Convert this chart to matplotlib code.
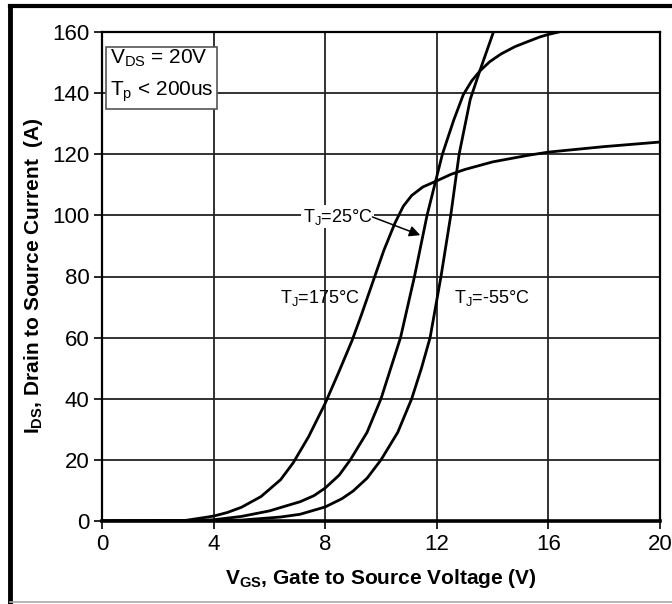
import matplotlib
matplotlib.use("Agg")
import matplotlib.pyplot as plt
from matplotlib.lines import Line2D

plt.rcParams['font.family'] = ['Liberation Sans Narrow', 'Liberation Sans', 'DejaVu Sans']

# transfer characteristics
vgs_175 = [0, 3, 4, 4.5, 5, 5.7, 6.4, 6.85, 7.4, 8.0, 8.5, 8.96, 9.3, 9.68, 10.1, 10.5, 10.8, 11.1, 11.5, 12.0, 12.5, 13.0, 14.0, 15.3, 16.0, 18.0, 20.0]
ids_175 = [0, 0.2, 1.6, 2.8, 4.5, 8, 13.5, 19, 27.5, 38.5, 49, 59, 67.5, 77.5, 88.5, 97.5, 103, 106.5, 109.3, 111.3, 113.4, 115, 117.5, 119.7, 120.7, 122.5, 124]

vgs_25 = [0, 3, 4, 5, 6, 6.4, 7.1, 7.6, 8.0, 8.5, 8.9, 9.5, 10.0, 10.35, 10.7, 11.2, 11.65, 12.2, 12.6, 12.95, 13.25, 13.55, 13.9, 14.3, 14.8, 15.3, 15.7, 16.0, 16.6]
ids_25 = [0, 0.1, 0.4, 1.5, 3.3, 4.4, 6.3, 8.3, 10.8, 15, 20, 29, 40, 50, 60, 80, 100, 120, 131, 139.5, 144, 147.3, 150.3, 152.8, 155.2, 157, 158.4, 159.2, 160.5]

vgs_m55 = [0, 3, 4, 5, 6.4, 7.1, 8.0, 8.6, 9.0, 9.5, 10.0, 10.6, 11.1, 11.45, 11.76, 12.15, 12.5, 12.8, 13.2, 13.55, 14.05]
ids_m55 = [0, 0, 0.1, 0.3, 1.3, 2.2, 4.6, 7.3, 9.8, 14, 20, 29, 40, 50, 60, 80, 100, 120, 138, 147.5, 160.5]

x_ticks = [0, 4, 8, 12, 16, 20]
y_ticks = [0, 20, 40, 60, 80, 100, 120, 140, 160]

fig = plt.figure(figsize=(6.72, 6.04), dpi=100)
ax = fig.add_axes([102 / 672, 1 - 521 / 604, 558 / 672, 489 / 604])

for v, i in [(vgs_175, ids_175), (vgs_25, ids_25), (vgs_m55, ids_m55)]:
    ax.plot(v, i, color='black', lw=2.0, solid_joinstyle='round', zorder=3)

ax.set_xlim(0, 20)
ax.set_ylim(0, 160)
ax.set_xticks(x_ticks)
ax.set_yticks(y_ticks)
ax.tick_params(labelsize=16, length=6, width=1.2, color='black', pad=3)
ax.grid(True, color='#222222', lw=1.3)
ax.set_axisbelow(True)
for side in ['left', 'right', 'top']:
    ax.spines[side].set_linewidth(1.6)
ax.spines['bottom'].set_linewidth(2.6)

fig.text(34 / 672, 1 - 276 / 604, r'$\mathregular{I_{DS}}$, Drain to Source Current  (A)',
         rotation=90, ha='center', va='center', fontsize=15, fontweight='bold')
fig.text(381 / 672, 1 - 578 / 604, r'$\mathregular{V_{GS}}$, Gate to Source Voltage (V)',
         ha='center', va='center', fontsize=15, fontweight='bold')

ax.text(0.28, 145.5, r'$\mathregular{V_{DS}}$ = 20V' + '\n' + r'$\mathregular{T_p}$ < 200us',
        fontsize=15, va='center', ha='left', linespacing=1.65,
        bbox=dict(boxstyle='square,pad=0.2', fc='white', ec='#555555', lw=1.2), zorder=5)

ax.text(8.45, 99.5, r'$\mathregular{T_J}$=25°C', fontsize=13, ha='center', va='center',
        bbox=dict(boxstyle='square,pad=0.08', fc='white', ec='none'), zorder=5)
ax.annotate('', xy=(11.5, 93.2), xytext=(9.6, 99.8),
            arrowprops=dict(arrowstyle='-|>', color='black', lw=1.1, mutation_scale=16), zorder=5)
ax.text(7.8, 73, r'$\mathregular{T_J}$=175°C', fontsize=13, ha='center', va='center', zorder=5)
ax.text(12.6, 73, r'$\mathregular{T_J}$=-55°C', fontsize=13, ha='left', va='center', zorder=5)

# outer frame of the picture: dark on left/top, light on bottom
fig.add_artist(Line2D([10 / 672, 10 / 672], [0, 1 - 6 / 604], color='black', lw=3.5,
                      transform=fig.transFigure))
fig.add_artist(Line2D([10 / 672, 1], [1 - 6 / 604, 1 - 6 / 604], color='black', lw=3,
                      transform=fig.transFigure))
fig.add_artist(Line2D([10 / 672, 1], [1 - 602 / 604, 1 - 602 / 604], color='#aaaaaa', lw=1.2,
                      transform=fig.transFigure))

fig.savefig('out.png', dpi=100)
